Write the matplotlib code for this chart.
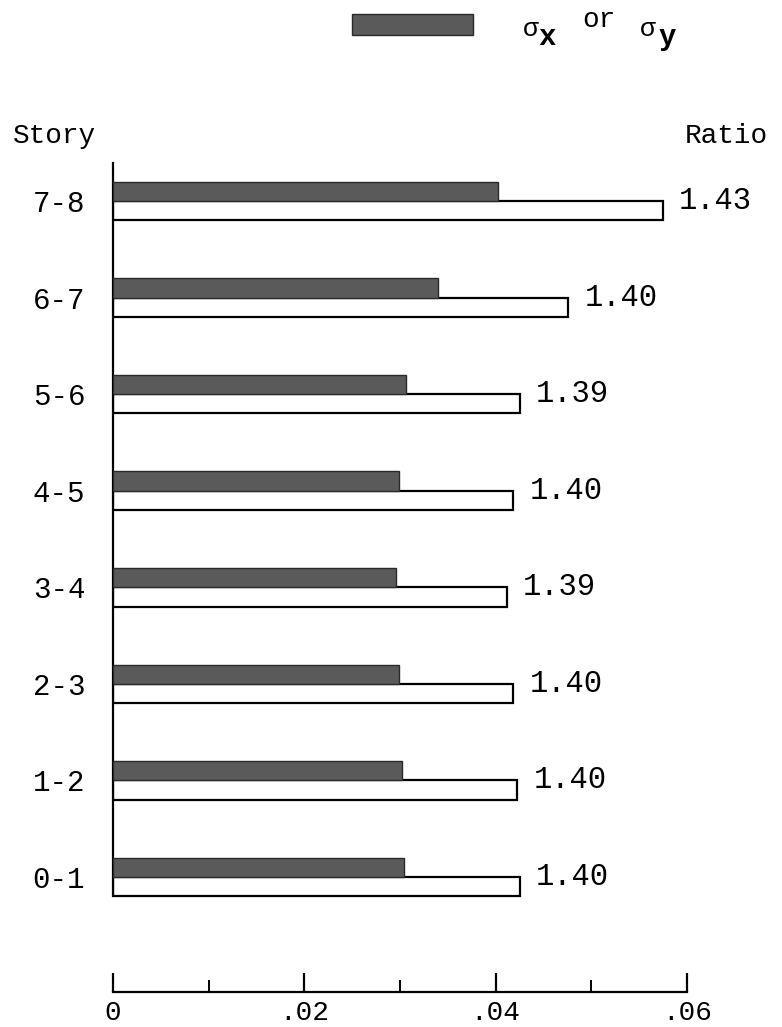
import matplotlib
matplotlib.use("Agg")
import matplotlib.pyplot as plt
from matplotlib.patches import Rectangle

# Story-drift data: sigma_x / sigma_y per story and the ratio of the
# companion (open) bar to it.
stories = ["0-1", "1-2", "2-3", "3-4", "4-5", "5-6", "6-7", "7-8"]
sigma_xy = [0.0304, 0.0302, 0.0299, 0.0296, 0.0299, 0.0306, 0.0340, 0.0402]
ratios = [1.40, 1.40, 1.40, 1.39, 1.40, 1.39, 1.40, 1.43]
ratio_labels = ["1.40", "1.40", "1.40", "1.39", "1.40", "1.39", "1.40", "1.43"]

x_major = [0, 0.02, 0.04, 0.06]
x_major_labels = ["0", ".02", ".04", ".06"]
x_minor = [0.01, 0.03, 0.05]

# open bar = sigma * ratio
sigma_open = [s * r for s, r in zip(sigma_xy, ratios)]

plt.rcParams['font.family'] = ['Liberation Mono', 'DejaVu Sans Mono']

W, H = 782, 1027
fig = plt.figure(figsize=(W / 100, H / 100), dpi=100)


def fx(px):
    return px / W


def fy(py):
    return 1 - py / H


# axes frame in pixel terms
left_px, right_px = 113, 687
top_px, bottom_px = 163, 992
ax = fig.add_axes([fx(left_px), fy(bottom_px),
                   (right_px - left_px) / W, (bottom_px - top_px) / H])

unit = 96.57  # pixels between story groups
ax.set_xlim(0, 0.06)
ax.set_ylim(-(bottom_px - 877) / unit, 7 + (201 - top_px) / unit)

ypos = list(range(len(stories)))
bar_h = 0.2
dark = '#5a5a5a'

ax.barh([y + bar_h / 2 for y in ypos], sigma_xy, height=bar_h,
        color=dark, edgecolor='#2a2a2a', linewidth=1.0, zorder=3)
ax.barh([y - bar_h / 2 for y in ypos], sigma_open, height=bar_h,
        color='white', edgecolor='black', linewidth=1.6, zorder=2)

for y, v, lab in zip(ypos, sigma_open, ratio_labels):
    ax.annotate(lab, xy=(v, y), xytext=(16, 0), textcoords='offset pixels',
                ha='left', va='center', fontsize=22, annotation_clip=False)

# spines
for s in ('top', 'right'):
    ax.spines[s].set_visible(False)
ax.spines['left'].set_bounds(-bar_h, ax.get_ylim()[1])
ax.spines['left'].set_linewidth(1.6)
ax.spines['bottom'].set_bounds(0, 0.06)
ax.spines['bottom'].set_linewidth(1.6)

ax.set_yticks(ypos)
ax.set_yticklabels(stories, fontsize=21)
ax.tick_params(axis='y', length=0, pad=20)

ax.set_xticks(x_major)
ax.set_xticklabels(x_major_labels, fontsize=20)
ax.set_xticks(x_minor, minor=True)
ax.tick_params(axis='x', which='major', direction='in', length=14,
               width=1.6, pad=6)
ax.tick_params(axis='x', which='minor', direction='in', length=9,
               width=1.4)

# headings
fig.text(fx(13), fy(143), "Story", fontsize=20, ha='left', va='baseline')
fig.text(fx(685), fy(143), "Ratio", fontsize=20, ha='left', va='baseline')

# key
fig.add_artist(Rectangle((fx(352), fy(35)), (473 - 352) / W, 21 / H,
                         transform=fig.transFigure, facecolor=dark,
                         edgecolor='#2a2a2a', linewidth=1.0))
fig.text(fx(523), fy(36), "σ", fontsize=19, ha='left', va='baseline')
fig.text(fx(538), fy(45), "x", fontsize=21, fontweight='bold',
         ha='left', va='baseline')
fig.text(fx(582), fy(27), "or", fontsize=20, ha='left', va='baseline')
fig.text(fx(640), fy(36), "σ", fontsize=19, ha='left', va='baseline')
fig.text(fx(658), fy(45), "y", fontsize=21, fontweight='bold',
         ha='left', va='baseline')

fig.savefig("out.png", dpi=100)
